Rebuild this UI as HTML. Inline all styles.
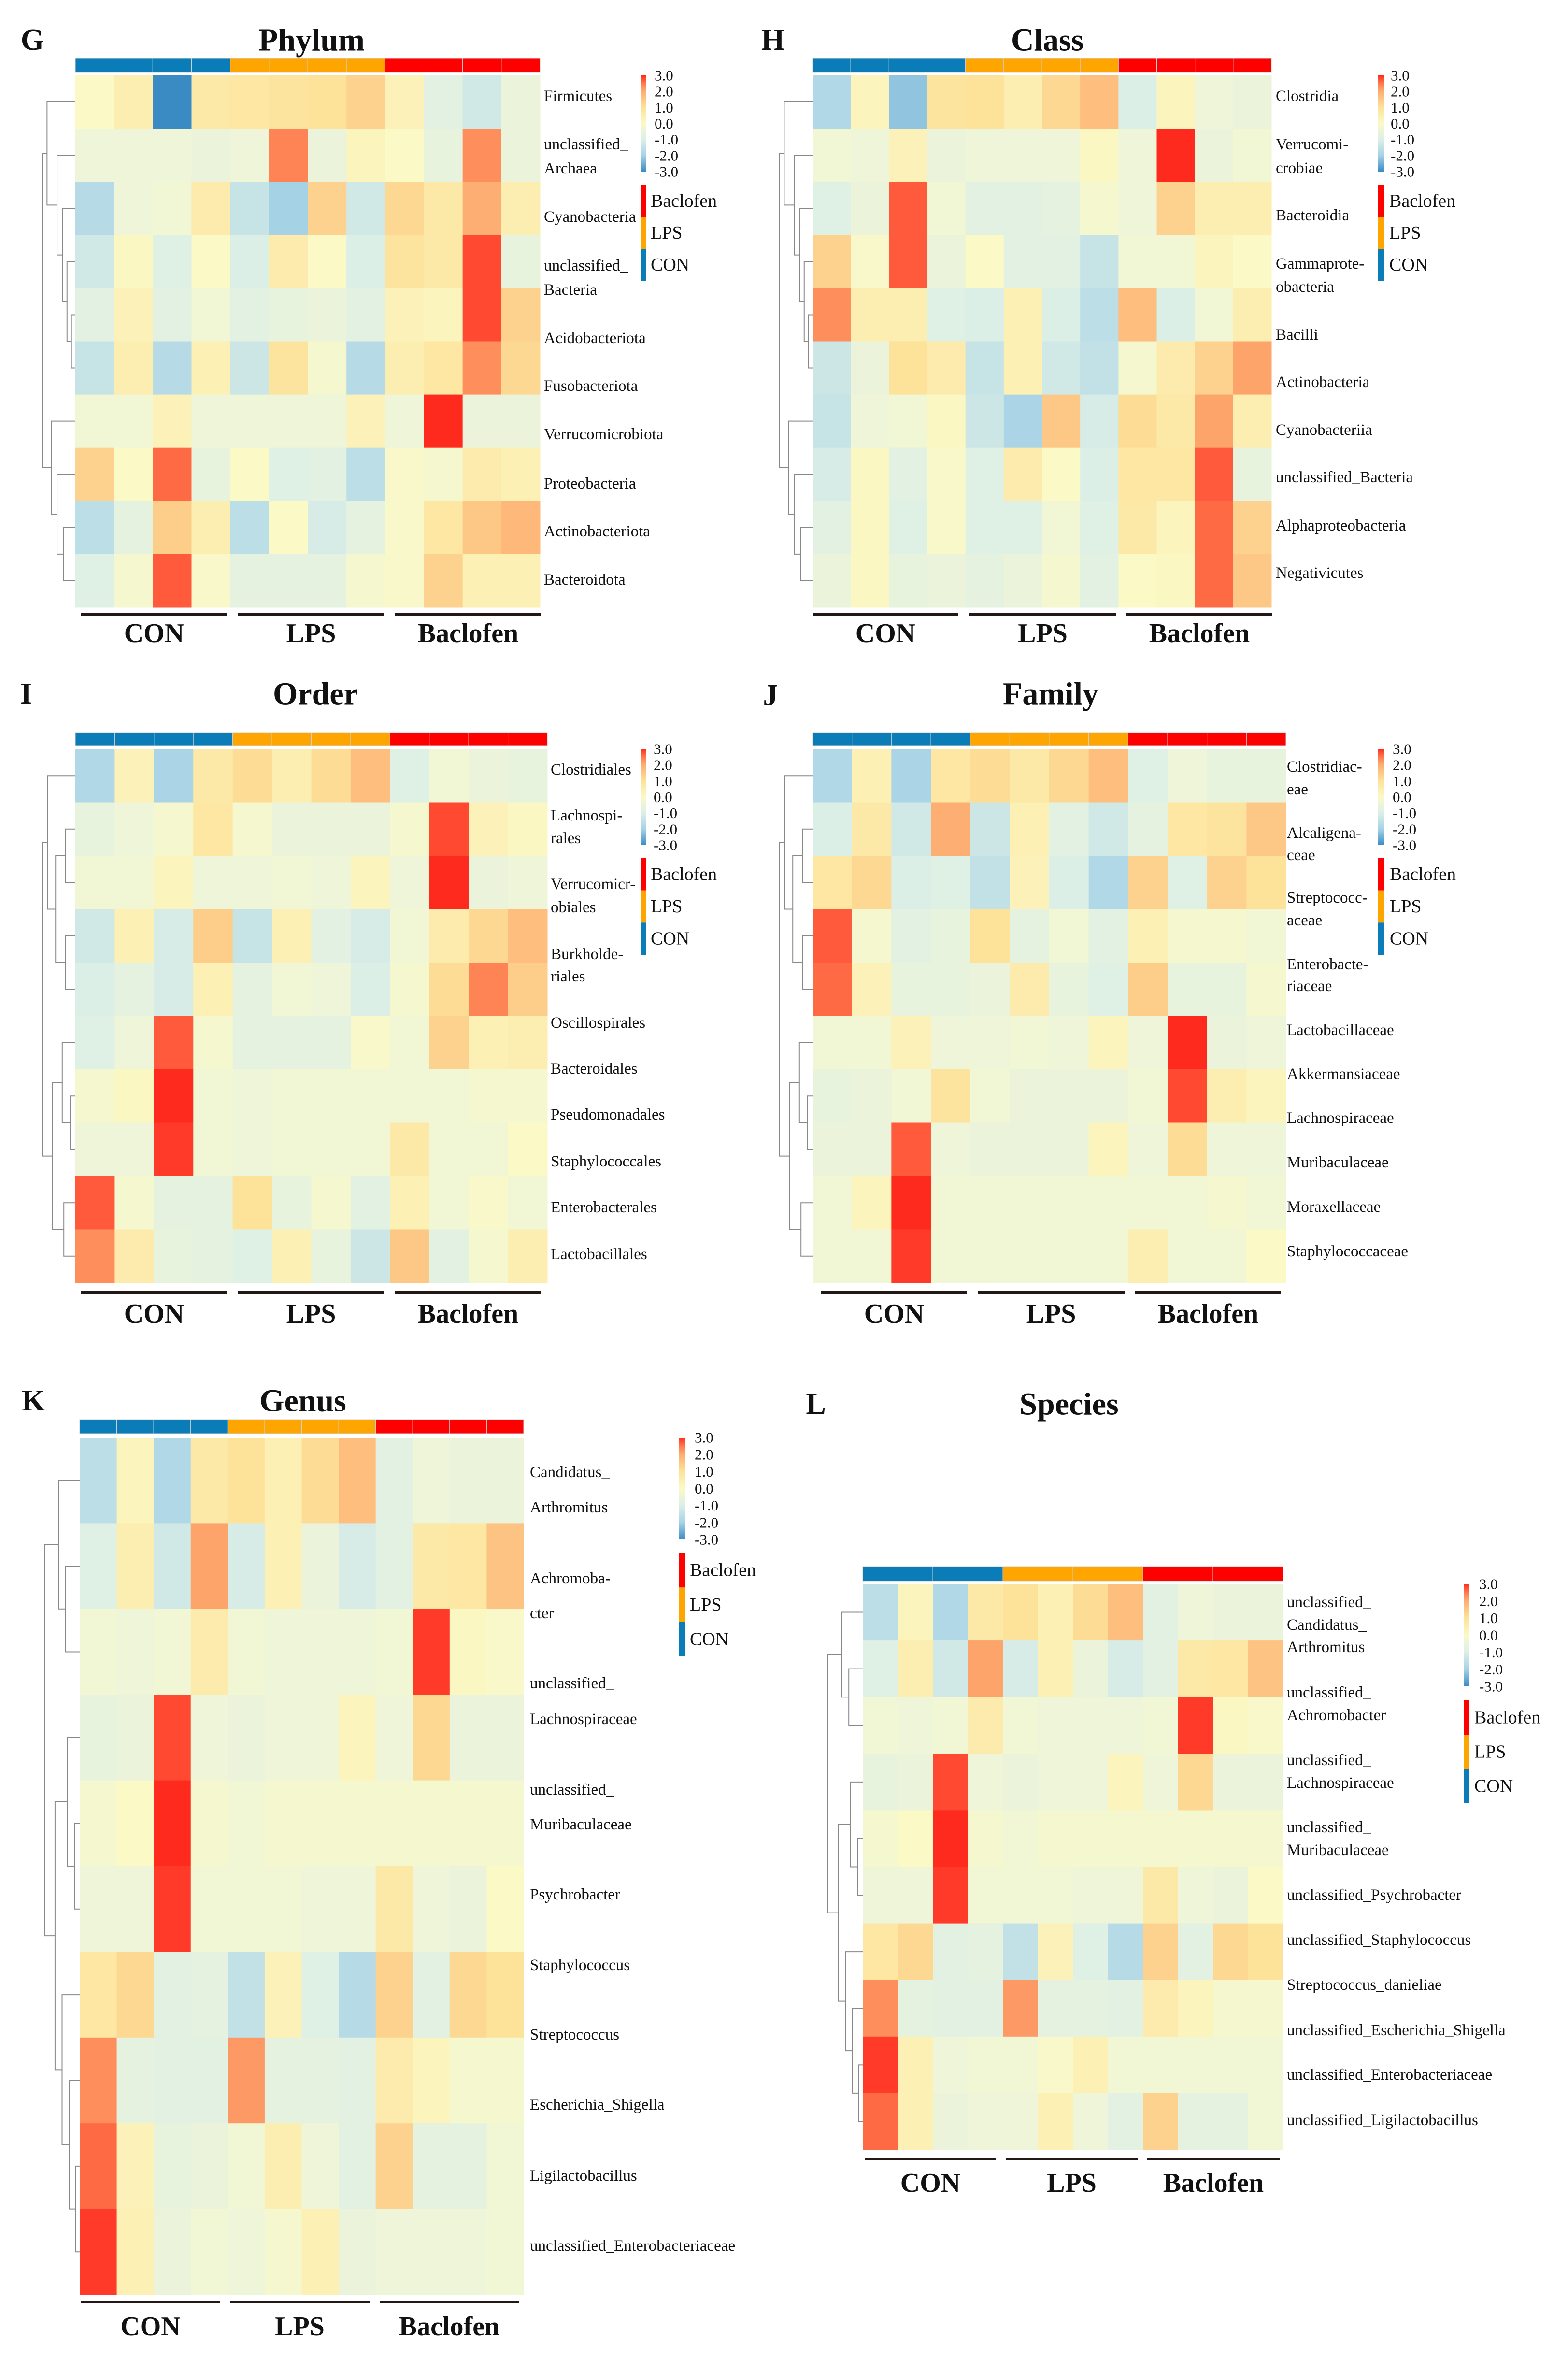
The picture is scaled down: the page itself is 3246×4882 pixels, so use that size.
<!DOCTYPE html>
<html><head><meta charset="utf-8"><style>
html,body{margin:0;padding:0;background:#fff}
svg{display:block}
text{font-family:"Liberation Serif",serif;fill:#111}
</style></head><body>
<svg id="fig" xmlns="http://www.w3.org/2000/svg" width="3246" height="4882" viewBox="0 0 3246 4882"></svg>
<script>
// ---- data (z-scores, 12 samples: 4 CON, 4 LPS, 4 Baclofen) ----
const groups = ["CON","LPS","Baclofen"];
const tickLabels = ["3.0","2.0","1.0","0.0","-1.0","-2.0","-3.0"];
const rowsG = ["Firmicutes","unclassified_Archaea","Cyanobacteria","unclassified_Bacteria","Acidobacteriota","Fusobacteriota","Verrucomicrobiota","Proteobacteria","Actinobacteriota","Bacteroidota"];
const valsG = [
[0,0.5,-3,0.7,0.8,0.9,1.0,1.3,0.3,-0.8,-1.2,-0.5],
[-0.4,-0.4,-0.4,-0.5,-0.4,2.4,-0.5,0.2,0,-0.6,2.3,-0.5],
[-1.7,-0.4,-0.3,0.6,-1.4,-2.0,1.3,-1.2,1.2,0.7,2.0,0.5],
[-1.2,0.1,-0.9,0,-1.0,0.6,0,-1.0,0.9,0.7,2.8,-0.6],
[-0.8,0.3,-0.8,-0.3,-0.8,-0.6,-0.5,-0.8,0.3,0.2,2.8,1.3],
[-1.4,0.5,-1.7,0.4,-1.3,0.9,-0.2,-1.7,0.5,0.8,2.3,1.2],
[-0.3,-0.3,0.3,-0.4,-0.4,-0.4,-0.4,0.3,-0.4,3.0,-0.5,-0.5],
[1.3,0,2.6,-0.6,0,-0.9,-0.8,-1.6,-0.1,-0.2,0.6,0.4],
[-1.6,-0.7,1.4,0.5,-1.6,0,-1.1,-0.7,-0.1,0.8,1.5,1.8],
[-0.9,-0.2,2.7,-0.1,-0.7,-0.7,-0.7,-0.2,-0.1,1.3,0.4,0.4]];
const rowsH = ["Clostridia","Verrucomicrobiae","Bacteroidia","Gammaproteobacteria","Bacilli","Actinobacteria","Cyanobacteriia","unclassified_Bacteria","Alphaproteobacteria","Negativicutes"];
const valsH = [
[-1.8,0.2,-2.2,0.9,1.0,0.5,1.2,1.7,-1.0,0.2,-0.4,-0.5],
[-0.3,-0.4,0.3,-0.5,-0.4,-0.4,-0.4,0.1,-0.4,3.0,-0.5,-0.3],
[-0.9,-0.5,2.7,-0.3,-0.8,-0.8,-0.7,-0.2,-0.4,1.3,0.5,0.5],
[1.3,-0.1,2.7,-0.5,0,-0.8,-0.8,-1.4,-0.3,-0.3,0.2,0],
[2.3,0.5,0.5,-0.9,-1.0,0.4,-1.0,-1.6,1.7,-1.0,-0.3,0.5],
[-1.3,-0.5,1.0,0.6,-1.4,0.4,-1.2,-1.5,-0.2,0.6,1.3,2.1],
[-1.4,-0.4,-0.3,0.1,-1.3,-1.9,1.5,-1.1,1.1,0.7,2.1,0.5],
[-1.1,0.1,-0.8,-0.1,-0.9,0.6,0,-1.0,0.8,0.8,2.7,-0.6],
[-0.8,0.1,-0.9,-0.1,-0.9,-0.9,-0.3,-0.9,0.7,0.2,2.6,1.3],
[-0.5,0.1,-0.6,-0.5,-0.7,-0.5,-0.2,-0.8,0,0.1,2.6,1.5]];
const rowsI = ["Clostridiales","Lachnospirales","Verrucomicrobiales","Burkholderiales","Burkholderiales-2","Oscillospirales","Bacteroidales","Pseudomonadales","Enterobacterales","Lactobacillales"];
const valsI = [
[-1.8,0.3,-1.9,0.7,1.1,0.5,1.1,1.7,-0.9,-0.3,-0.5,-0.6],
[-0.6,-0.4,-0.2,0.8,-0.2,-0.5,-0.5,-0.5,-0.2,2.8,0.3,0.1],
[-0.3,-0.3,0.2,-0.4,-0.4,-0.3,-0.4,0.2,-0.4,3.0,-0.5,-0.4],
[-1.2,0.4,-1.1,1.4,-1.4,0.4,-0.8,-1.1,-0.3,0.6,1.2,1.7],
[-1.0,-0.7,-1.1,0.4,-0.7,-0.3,-0.4,-1.0,-0.2,1.1,2.4,1.4],
[-0.9,-0.4,2.7,-0.2,-0.7,-0.7,-0.7,-0.1,-0.3,1.3,0.4,0.5],
[-0.2,0.1,3.0,-0.3,-0.4,-0.3,-0.3,-0.3,-0.3,-0.3,-0.2,-0.2],
[-0.4,-0.4,2.9,-0.3,-0.4,-0.3,-0.3,-0.3,0.7,-0.3,-0.3,0],
[2.7,-0.2,-0.7,-0.7,1.0,-0.6,-0.2,-0.8,0.4,-0.3,-0.1,-0.3],
[2.3,0.6,-0.6,-0.7,-0.9,0.4,-0.6,-1.3,1.5,-0.8,-0.2,0.5]];
const rowsJ = ["Clostridiaceae","Alcaligenaceae","Streptococcaceae","Enterobacteriaceae","Enterobacteriaceae-2","Lactobacillaceae","Akkermansiaceae","Lachnospiraceae","Muribaculaceae","Moraxellaceae"];
const valsJ = [
[-1.8,0.4,-1.9,0.8,1.1,0.7,1.2,1.7,-0.9,-0.4,-0.6,-0.6],
[-1.0,0.7,-1.2,2.0,-1.3,0.4,-0.8,-1.2,-0.7,0.8,0.9,1.5],
[0.8,1.2,-1.0,-0.9,-1.5,0.3,-1.0,-1.8,1.3,-0.9,1.3,1.0],
[2.7,-0.2,-0.8,-0.6,1.0,-0.7,-0.3,-0.8,0.4,-0.2,-0.2,-0.3],
[2.6,0.3,-0.6,-0.6,-0.5,0.6,-0.6,-0.9,1.4,-0.6,-0.6,-0.2],
[-0.3,-0.3,0.3,-0.4,-0.4,-0.3,-0.4,0.2,-0.4,3.0,-0.5,-0.4],
[-0.6,-0.5,-0.3,0.9,-0.3,-0.5,-0.5,-0.5,-0.3,2.8,0.5,0.2],
[-0.5,-0.5,2.7,-0.4,-0.5,-0.5,-0.5,0.2,-0.4,1.1,-0.4,-0.4],
[-0.3,0.2,3.0,-0.3,-0.3,-0.3,-0.3,-0.3,-0.3,-0.3,-0.2,-0.3],
[-0.3,-0.3,2.9,-0.3,-0.3,-0.3,-0.3,-0.3,0.5,-0.3,-0.3,0]];
const rowsK = ["Candidatus_Arthromitus","Achromobacter","unclassified_Lachnospiraceae","unclassified_Muribaculaceae","Psychrobacter","Staphylococcus","Streptococcus","Escherichia_Shigella","Ligilactobacillus","unclassified_Enterobacteriaceae"];
const valsK = [
[-1.6,0.2,-1.8,0.7,1.0,0.4,1.1,1.7,-0.8,-0.4,-0.5,-0.5],
[-0.9,0.5,-1.2,2.1,-1.1,0.4,-0.5,-1.1,-0.8,0.7,0.8,1.6],
[-0.3,-0.4,-0.3,0.6,-0.3,-0.4,-0.4,-0.4,-0.3,2.9,0.1,-0.1],
[-0.6,-0.5,2.8,-0.4,-0.5,-0.4,-0.4,0.2,-0.4,1.2,-0.5,-0.5],
[-0.2,0,3.0,-0.2,-0.3,-0.2,-0.2,-0.2,-0.2,-0.2,-0.2,-0.2],
[-0.4,-0.4,2.9,-0.3,-0.3,-0.3,-0.4,-0.4,0.7,-0.4,-0.5,0],
[0.8,1.2,-0.8,-0.7,-1.5,0.3,-0.9,-1.7,1.3,-0.8,1.2,1.0],
[2.3,-0.7,-0.8,-0.8,2.2,-0.7,-0.7,-0.8,0.6,0.2,-0.2,-0.2],
[2.6,0.3,-0.6,-0.5,-0.3,0.5,-0.4,-0.8,1.3,-0.7,-0.7,-0.3],
[2.9,0.4,-0.5,-0.3,-0.4,-0.2,0.4,-0.5,-0.4,-0.4,-0.4,-0.3]];
const rowsL = ["unclassified_Candidatus_Arthromitus","unclassified_Achromobacter","unclassified_Lachnospiraceae","unclassified_Muribaculaceae","unclassified_Psychrobacter","unclassified_Staphylococcus","Streptococcus_danieliae","unclassified_Escherichia_Shigella","unclassified_Enterobacteriaceae","unclassified_Ligilactobacillus"];
const valsL = [
[-1.6,0.2,-1.8,0.7,1.0,0.4,1.1,1.7,-0.8,-0.4,-0.5,-0.5],
[-0.9,0.5,-1.2,2.1,-1.1,0.4,-0.5,-1.1,-0.8,0.7,0.8,1.6],
[-0.3,-0.4,-0.3,0.6,-0.3,-0.4,-0.4,-0.4,-0.3,2.9,0.1,-0.1],
[-0.6,-0.5,2.8,-0.4,-0.5,-0.4,-0.4,0.2,-0.4,1.2,-0.5,-0.5],
[-0.2,0,3.0,-0.2,-0.3,-0.2,-0.2,-0.2,-0.2,-0.2,-0.2,-0.2],
[-0.4,-0.4,2.9,-0.3,-0.3,-0.3,-0.4,-0.4,0.7,-0.4,-0.5,0],
[0.8,1.2,-0.8,-0.7,-1.5,0.3,-0.9,-1.7,1.3,-0.8,1.2,1.0],
[2.3,-0.7,-0.8,-0.8,2.2,-0.7,-0.7,-0.8,0.6,0.2,-0.2,-0.2],
[2.9,0.4,-0.4,-0.3,-0.3,-0.1,0.4,-0.3,-0.3,-0.3,-0.3,-0.3],
[2.6,0.4,-0.5,-0.4,-0.4,0.4,-0.4,-0.8,1.3,-0.7,-0.7,-0.3]];

// ---- layout (not data) ----
const NS="http://www.w3.org/2000/svg";
const svg=document.getElementById('fig');
const groupColors=["#0a7db8","#ffa500","#ff0000"];
const stops=[[-3,[58,139,196]],[-2,[166,210,230]],[-1,[220,239,230]],[-0.4,[238,245,216]],[0,[251,249,198]],[1,[253,226,154]],[2,[253,174,114]],[2.5,[254,122,78]],[3,[255,42,30]]];
function colorScale(v){
  v=Math.max(-3,Math.min(3,v));
  for(let i=0;i<stops.length-1;i++){
    const a=stops[i],b=stops[i+1];
    if(v<=b[0]){const t=(v-a[0])/(b[0]-a[0]);
      const c=a[1].map((x,k)=>Math.round(x+(b[1][k]-x)*t));return `rgb(${c.join(',')})`;}
  }
  return 'rgb(255,42,30)';
}
function mk(tag,attrs,parent){const e=document.createElementNS(NS,tag);for(const k in attrs)e.setAttribute(k,attrs[k]);(parent||svg).appendChild(e);return e;}
function txt(s,x,y,size,opts,parent){const t=mk('text',Object.assign({x:x,y:y,'font-size':size,'dominant-baseline':'central'},opts||{}),parent);t.textContent=s;return t;}

function drawPanel(p){
  const g=mk('g',{});
  
  
  const L=txt(p.letter,p.lx,p.ly,62,{'font-weight':'bold','text-anchor':'middle'},g);
  
  
  const T=txt(p.title,p.tx,p.ty,66,{'font-weight':'bold','text-anchor':'middle'},g);
  
  
  const nc=12,nr=p.vals.length;
  const cw=(p.x1-p.x0)/nc,ch=(p.y1-p.y0)/nr;
  const xOf=c=>p.x0+c*cw, yOf=r=>p.y0+r*ch;
  // annotation bar
  for(let c=0;c<nc;c++){
    const r=mk('rect',{x:xOf(c),y:p.by0,width:cw,height:p.by1-p.by0,fill:groupColors[Math.floor(c/4)],stroke:'#d0d0d0','stroke-width':1},g);
    
    
  }
  // cells
  p.vals.forEach((row,ri)=>row.forEach((v,ci)=>{
    const r=mk('rect',{x:xOf(ci),y:yOf(ri),width:cw+0.5,height:ch+0.5,fill:colorScale(v)},g);
    
    
  }));
  // row labels
  p.labels.forEach(l=>{
    const t=txt(l[0],p.labX,l[1],33,{},g);
    
    
  });
  // dendrogram
  const dg=mk('g',{stroke:'#888','stroke-width':2,fill:'none'},g);
  
  
  const W=p.x0-p.dx;
  function node(n){
    if(typeof n==='number') return {y:yOf(n)+ch/2,x:p.x0};
    const a=node(n[0]),b=node(n[1]);const x=p.x0-W*n[2];
    mk('path',{d:`M${a.x},${a.y}H${x}V${b.y}H${b.x}`},dg);
    return {y:(a.y+b.y)/2,x:x};
  }
  node(p.tree);
  // colorbar
  const gid='cb'+p.letter;
  const defs=mk('defs',{},g);
  const lg=mk('linearGradient',{id:gid,x1:0,y1:0,x2:0,y2:1},defs);
  for(let i=0;i<=12;i++){const v=3-i*0.5;mk('stop',{offset:(i/12),'stop-color':colorScale(v)},lg);}
  const cb=mk('rect',{x:p.cbx,y:p.cby0,width:12,height:p.cby1-p.cby0,fill:`url(#${gid})`},g);
  
  
  tickLabels.forEach((s,i)=>{
    const t=txt(s,p.tkx,p.cby0+i*(p.cby1-p.cby0)/6,31,{},g);
    
    
  });
  // group legend
  const seg=(p.lgy1-p.lgy0)/3;
  ["Baclofen","LPS","CON"].forEach((s,i)=>{
    const r=mk('rect',{x:p.cbx,y:p.lgy0+i*seg,width:12,height:seg,fill:groupColors[2-i]},g);
    
    
    const t=txt(s,p.lgx,p.lgy0+i*seg+seg/2,38,{},g);
    
    
  });
  // group lines & labels
  p.lines.forEach((ln,i)=>{
    const r=mk('rect',{x:ln[0],y:p.lineY-3,width:ln[1]-ln[0],height:6,fill:'#231815'},g);
    
    
    const t=txt(groups[i],(ln[0]+ln[1])/2,p.glY,56,{'font-weight':'bold','text-anchor':'middle'},g);
    
    
  });
}
const treeA=[[0,[1,[2,[3,[4,5,0.12],0.25],0.38],0.55],0.85],[6,[7,[8,9,0.35],0.55],0.72],1.0];
const treeB=[[0,[[1,[2,3,0.4],0.55],[4,[5,[6,[7,[8,9,0.12],0.3],0.45],0.6],0.75],0.85],0.95],0,1.0];
const treeC=[[0,[[1,2,0.3],[3,4,0.3],0.6],0.85],[[5,[6,7,0.15],0.4],[8,9,0.35],0.7],1.0];
const panels=[
 {letter:'G',lx:67,ly:83,title:'Phylum',tx:645,ty:83,x0:156,x1:1118,y0:156,y1:1257,by0:121,by1:150,dx:87,vals:valsG,tree:treeA,labX:1126,
  labels:[["Firmicutes",199],["unclassified_",299],["Archaea",349],["Cyanobacteria",449],["unclassified_",550],["Bacteria",600],["Acidobacteriota",700],["Fusobacteriota",799],["Verrucomicrobiota",899],["Proteobacteria",1001],["Actinobacteriota",1100],["Bacteroidota",1200]],
  cbx:1326,cby0:156,cby1:355,tkx:1355,lgy0:383,lgy1:581,lgx:1347,lines:[[168,470],[493,795],[818,1120]],lineY:1272,glY:1311},
 {letter:'H',lx:1600,ly:83,title:'Class',tx:2168,ty:83,x0:1682,x1:2632,y0:156,y1:1257,by0:121,by1:150,dx:1613,vals:valsH,tree:treeA,labX:2641,
  labels:[["Clostridia",199],["Verrucomi-",299],["crobiae",348],["Bacteroidia",446],["Gammaprote-",546],["obacteria",594],["Bacilli",693],["Actinobacteria",791],["Cyanobacteriia",890],["unclassified_Bacteria",988],["Alphaproteobacteria",1088],["Negativicutes",1186]],
  cbx:2853,cby0:156,cby1:355,tkx:2879,lgy0:383,lgy1:581,lgx:2876,lines:[[1682,1984],[2007,2310],[2332,2634]],lineY:1272,glY:1311},
 {letter:'I',lx:54,ly:1436,title:'Order',tx:653,ty:1436,x0:156,x1:1133,y0:1550,y1:2655,by0:1516,by1:1543,dx:88,vals:valsI,tree:treeC,labX:1140,
  labels:[["Clostridiales",1593],["Lachnospi-",1688],["rales",1735],["Verrucomicr-",1830],["obiales",1878],["Burkholde-",1975],["riales",2021],["Oscillospirales",2117],["Bacteroidales",2212],["Pseudomonadales",2307],["Staphylococcales",2404],["Enterobacterales",2499],["Lactobacillales",2596]],
  cbx:1326,cby0:1550,cby1:1749,tkx:1353,lgy0:1776,lgy1:1976,lgx:1347,lines:[[168,470],[493,795],[818,1120]],lineY:2674,glY:2719},
 {letter:'J',lx:1595,ly:1439,title:'Family',tx:2175,ty:1436,x0:1682,x1:2662,y0:1550,y1:2655,by0:1516,by1:1543,dx:1614,vals:valsJ,tree:treeC,labX:2664,
  labels:[["Clostridiac-",1587],["eae",1634],["Alcaligena-",1724],["ceae",1770],["Streptococc-",1858],["aceae",1905],["Enterobacte-",1996],["riaceae",2041],["Lactobacillaceae",2132],["Akkermansiaceae",2223],["Lachnospiraceae",2314],["Muribaculaceae",2406],["Moraxellaceae",2498],["Staphylococcaceae",2590]],
  cbx:2853,cby0:1550,cby1:1749,tkx:2883,lgy0:1776,lgy1:1976,lgx:2877,lines:[[1700,2002],[2024,2328],[2350,2652]],lineY:2674,glY:2719},
 {letter:'K',lx:69,ly:2899,title:'Genus',tx:627,ty:2899,x0:165,x1:1084,y0:2975,y1:4749,by0:2938,by1:2967,dx:92,vals:valsK,tree:treeB,labX:1097,
  labels:[["Candidatus_",3047],["Arthromitus",3120],["Achromoba-",3267],["cter",3339],["unclassified_",3484],["Lachnospiraceae",3558],["unclassified_",3704],["Muribaculaceae",3776],["Psychrobacter",3921],["Staphylococcus",4067],["Streptococcus",4211],["Escherichia_Shigella",4356],["Ligilactobacillus",4503],["unclassified_Enterobacteriaceae",4648]],
  cbx:1406,cby0:2975,cby1:3186,tkx:1438,lgy0:3214,lgy1:3428,lgx:1428,lines:[[168,455],[476,765],[786,1074]],lineY:4764,glY:4815},
 {letter:'L',lx:1689,ly:2906,title:'Species',tx:2213,ty:2906,x0:1786,x1:2656,y0:3278,y1:4449,by0:3242,by1:3272,dx:1714,vals:valsL,tree:treeB,labX:2664,
  labels:[["unclassified_",3316],["Candidatus_",3363],["Arthromitus",3409],["unclassified_",3503],["Achromobacter",3550],["unclassified_",3643],["Lachnospiraceae",3690],["unclassified_",3782],["Muribaculaceae",3829],["unclassified_Psychrobacter",3922],["unclassified_Staphylococcus",4015],["Streptococcus_danieliae",4108],["unclassified_Escherichia_Shigella",4202],["unclassified_Enterobacteriaceae",4294],["unclassified_Ligilactobacillus",4388]],
  cbx:3030,cby0:3278,cby1:3490,tkx:3062,lgy0:3519,lgy1:3732,lgx:3052,lines:[[1790,2062],[2082,2355],[2375,2649]],lineY:4468,glY:4518}
];
// fix treeB (replace malformed placeholder with valid structure)
const treeB2=[[[0,[1,2,0.4],0.6],[[3,[4,5,0.15],0.35],[6,[7,[8,9,0.12],0.3],0.5],0.7],0.85],[0,0,0],1.0];
panels.forEach(p=>{ if(p.tree===treeB) p.tree=[[0,[1,2,0.4],0.6],[[3,[4,5,0.15],0.35],[6,[7,[8,9,0.12],0.3],0.5],0.7],1.0]; drawPanel(p); });
</script>
</body></html>
